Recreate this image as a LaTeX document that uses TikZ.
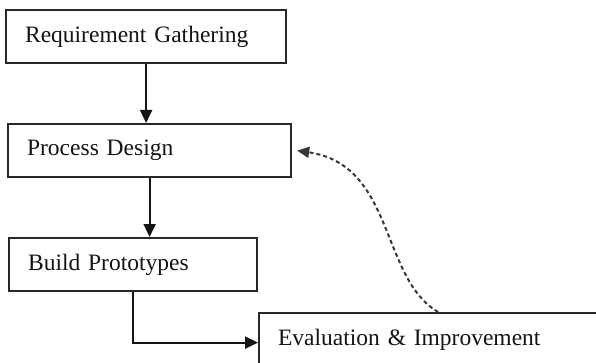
\documentclass[tikz,border=0pt]{standalone}
\usepackage{fontspec}
\setmainfont[WordSpace=0.75]{Liberation Serif}
\usetikzlibrary{arrows.meta, positioning}
\definecolor{boxline}{RGB}{40, 40, 40}
\definecolor{flowdark}{RGB}{20, 20, 20}
\definecolor{loopgray}{RGB}{55, 55, 55}

\begin{document}
\begin{tikzpicture}[
  x=1pt, y=-1pt,
  stage/.style={rectangle, draw=boxline, line width=2.2pt, fill=white,
               minimum height=53pt, inner xsep=19pt, align=left,
               anchor=north west, text=flowdark,
               font=\fontsize{23.5}{27}\selectfont},
  arrow/.style={-{Triangle[length=13pt, width=12pt]}, line width=2pt, color=flowdark},
  backarrow/.style={-{Triangle[length=12pt, width=11pt]}, line width=2pt,
                    dash pattern=on 4pt off 3pt, color=loopgray},
]
  \path[use as bounding box, clip] (0,0) rectangle (596,363);

  \node[stage, text width=242pt] (req) at (5,9) {Requirement Gathering};
  \node[stage, text width=245pt] (des) at (7,123) {Process Design};
  \node[stage, text width=210pt] (proto) at (8,237) {Build Prototypes};
  \node[stage, text width=312pt] (eval) at (258,312) {Evaluation \& Improvement};

  \draw[arrow] (req.south) -- (req.south |- des.north);
  \draw[arrow] (des.south) -- (des.south |- proto.north);
  \draw[arrow] (proto.south) |- ([yshift=-3pt]eval.west);

  % feedback from evaluation back to design
  \draw[backarrow] ([xshift=4pt]eval.north)
    .. controls (380,278) and (395,165) .. ([xshift=5pt]des.east);
\end{tikzpicture}
\end{document}
